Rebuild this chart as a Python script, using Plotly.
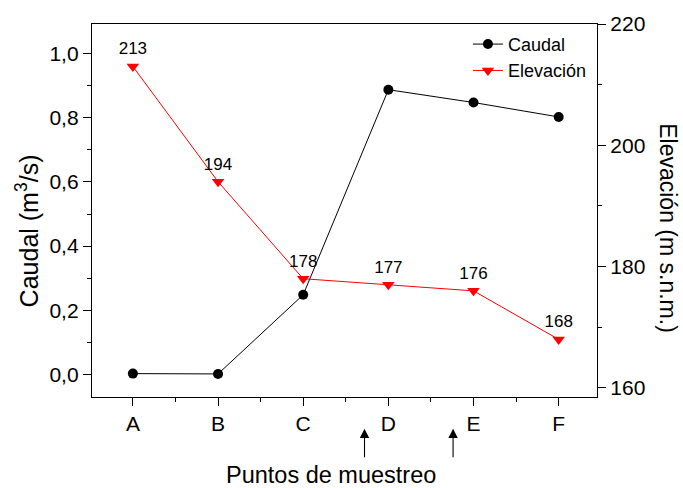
import plotly.graph_objects as go

# Sampling points and measurements
puntos = ["A", "B", "C", "D", "E", "F"]
caudal = [0.002, 0.001, 0.248, 0.888, 0.848, 0.803]   # m3/s
elevacion = [213, 194, 178, 177, 176, 168]             # m s.n.m.
elev_labels = [str(v) for v in elevacion]
arrow_x = [2.72, 3.76]                                  # positions between points

xpos = list(range(len(puntos)))
FONT = "Liberation Sans, Arial, sans-serif"

fig = go.Figure()

fig.add_trace(go.Scatter(
    x=xpos, y=caudal, name="Caudal", mode="lines+markers",
    line=dict(color="black", width=1),
    marker=dict(symbol="circle", size=10, color="black"),
    yaxis="y",
))

fig.add_trace(go.Scatter(
    x=xpos, y=elevacion, name="Elevación", mode="lines+markers+text",
    line=dict(color="red", width=1),
    marker=dict(symbol="triangle-down", size=11, color="red"),
    text=elev_labels, textposition="top center",
    textfont=dict(family=FONT, size=17, color="black"),
    yaxis="y2",
))

axis_common = dict(
    showline=True, linecolor="black", linewidth=1.3,
    ticks="outside", ticklen=8, tickwidth=1.3, tickcolor="black",
    showgrid=False, zeroline=False,
    tickfont=dict(family=FONT, size=21, color="black"),
)

fig.update_layout(
    width=683, height=488,
    margin=dict(l=92, r=86, t=22, b=91),
    plot_bgcolor="white", paper_bgcolor="white",
    separators=",.",
    showlegend=True,
    legend=dict(
        x=0.99, y=0.995, xanchor="right", yanchor="top",
        bgcolor="rgba(0,0,0,0)",
        font=dict(family=FONT, size=18, color="black"),
        tracegroupgap=0, itemwidth=30,
    ),
    xaxis=dict(
        axis_common,
        range=[-0.48, 5.45],
        tickmode="array", tickvals=xpos, ticktext=puntos,
        mirror=True,
        minor=dict(tickmode="array", tickvals=[i + 0.5 for i in xpos],
                   ticks="outside", ticklen=4, tickwidth=1.3, tickcolor="black"),
    ),
    yaxis=dict(
        axis_common,
        range=[-0.071, 1.093],
        tickmode="array", tickvals=[0, 0.2, 0.4, 0.6, 0.8, 1.0],
        tickformat=".1f",
        minor=dict(tickmode="array", tickvals=[0.1, 0.3, 0.5, 0.7, 0.9],
                   ticks="outside", ticklen=4, tickwidth=1.3, tickcolor="black"),
    ),
    yaxis2=dict(
        axis_common,
        overlaying="y", side="right",
        range=[158.5, 220],
        tickmode="array", tickvals=[160, 180, 200, 220],
        minor=dict(tickmode="array", tickvals=[170, 190, 210],
                   ticks="outside", ticklen=4, tickwidth=1.3, tickcolor="black"),
    ),
)

# Left axis title
fig.add_annotation(
    text="Caudal (m<sup>3</sup>/s)", textangle=-90,
    xref="paper", yref="paper", x=-0.128, y=0.445,
    xanchor="center", yanchor="middle", showarrow=False,
    font=dict(family=FONT, size=25, color="black"),
)

# Right axis title reads top to bottom
fig.add_annotation(
    text="Elevación (m s.n.m.)", textangle=90,
    xref="paper", yref="paper", x=1.139, y=0.452,
    xanchor="center", yanchor="middle", showarrow=False,
    font=dict(family=FONT, size=23, color="black"),
)

# Bottom axis title
fig.add_annotation(
    text="Puntos de muestreo",
    xref="paper", yref="paper", x=0.473, y=-0.208,
    xanchor="center", yanchor="middle", showarrow=False,
    font=dict(family=FONT, size=23.5, color="black"),
)

# Upward arrows under the axis
for xa in arrow_x:
    fig.add_annotation(
        x=xa, y=-0.085, xref="x", yref="paper",
        text="", showarrow=True, ax=0, ay=30,
        arrowhead=2, arrowsize=1.7, arrowwidth=1.1, arrowcolor="black",
        standoff=0,
    )

fig.write_html("out.html")
